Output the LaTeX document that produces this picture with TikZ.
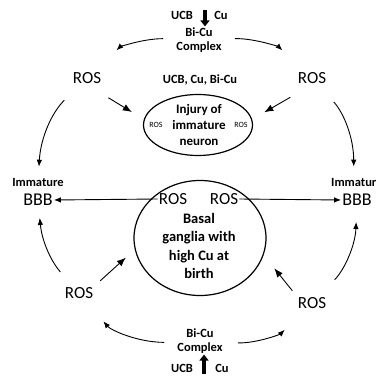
\documentclass[tikz,border=0pt]{standalone}
\usepackage{fontspec}
\setmainfont{Carlito}
\usetikzlibrary{arrows.meta,shapes.geometric}

\begin{document}
\begin{tikzpicture}[x=1pt, y=1pt,
    lbl/.style={font=\fontsize{12.5}{14}\selectfont\bfseries, align=center, inner sep=1pt},
    ros/.style={font=\fontsize{17}{19}\selectfont, inner sep=1pt},
    tinyros/.style={font=\fontsize{8}{9}\selectfont, inner sep=1pt},
    bbb/.style={font=\fontsize{18}{20}\selectfont, inner sep=1pt},
    oval/.style={ellipse, draw, line width=1.2pt, inner sep=0pt},
    ringarrow/.style={-{Latex[length=7pt,width=5.5pt]}, line width=0.9pt},
    fatarrow/.style={-{Triangle[width=9pt,length=6pt]}, line width=3.5pt}]
    \useasboundingbox (0, 0) rectangle (377, 375);

    % complex at the top
    \node[lbl] (ucbT) at (182, 360) {UCB};
    \node[lbl] (cuT) at (221, 360) {Cu};
    \node[lbl] (cplxT) at (199, 335) {Bi-Cu\\Complex};
    \coordinate (srcT) at (205, 365);
    \draw[fatarrow] (srcT) -- (srcT |- cplxT.north);

    \node[ros] (rosTL) at (87, 297) {ROS};
    \node[ros] (rosTR) at (312, 297) {ROS};
    \node[lbl] (agents) at (200, 295) {UCB, Cu, Bi-Cu};

    % injured neuron
    \node[oval, minimum width=109pt, minimum height=61pt] (inj) at (198, 250) {};
    \node[lbl, font=\fontsize{13}{16}\selectfont\bfseries] (injtxt) at (199, 250) {Injury of\\immature\\neuron};
    \node[tinyros] (rosIL) at (156, 250) {ROS};
    \node[tinyros] (rosIR) at (241, 250) {ROS};

    % barriers
    \node[lbl] (immL) at (38, 193) {Immature};
    \node[bbb] (bbbL) at (38, 175) {BBB};
    \node[lbl, anchor=west] (immR) at (330, 193) {Immatur};
    \node[bbb] (bbbR) at (357, 175) {BBB};

    % basal ganglia
    \node[oval, minimum width=132pt, minimum height=115pt] (circ) at (200, 137) {};
    \node[lbl, font=\fontsize{14.5}{18.5}\selectfont\bfseries] (basal) at (199, 129) {Basal\\ganglia with\\high Cu at\\birth};
    \node[ros] (rosCL) at (173, 176) {ROS};
    \node[ros] (rosCR) at (224, 176) {ROS};

    \node[ros] (rosBL) at (79, 82) {ROS};
    \node[ros] (rosBR) at (312, 72) {ROS};

    % complex at the bottom
    \node[lbl] (cplxB) at (200, 34) {Bi-Cu\\Complex};
    \node[lbl] (ucbB) at (182, 7) {UCB};
    \node[lbl] (cuB) at (222, 7) {Cu};
    \coordinate (srcB) at (204, 1);
    \draw[fatarrow] (srcB) -- (srcB |- cplxB.south);

    % outer ring
    \draw[ringarrow, shorten <=12pt, shorten >=30pt] (cplxT) to[bend right=22] (rosTL);
    \draw[ringarrow, shorten <=12pt, shorten >=30pt] (cplxT) to[bend left=22] (rosTR);
    \draw[ringarrow, shorten <=22pt, shorten >=10pt] (rosTL) to[bend right=21] (immL);
    \draw[ringarrow, shorten <=23pt, shorten >=10pt] (rosTR) to[bend left=21] (immR);
    \draw[ringarrow, shorten <=19pt, shorten >=11pt] (rosBL) to[bend left=18] (bbbL);
    \draw[ringarrow, shorten <=23pt, shorten >=15pt] (rosBR) to[bend right=21] (bbbR);
    \draw[ringarrow, shorten <=12pt, shorten >=28pt] (cplxB) to[bend left=25] (rosBL);
    \draw[ringarrow, shorten <=14pt, shorten >=28pt] (cplxB) to[bend right=23] (rosBR);

    % inner arrows
    \draw[ringarrow, -{Latex[length=9pt,width=7pt]}, shorten <=25pt, shorten >=14pt] (rosTL.south) -- (inj.174);
    \draw[ringarrow, -{Latex[length=9pt,width=7pt]}, shorten <=25pt, shorten >=14pt] (rosTR.south) -- (inj.6);
    \draw[ringarrow, -{Latex[length=9pt,width=7pt]}, shorten <=8pt, shorten >=12pt] (rosBL.north east) -- (circ.190);
    \draw[ringarrow, -{Latex[length=9pt,width=7pt]}, shorten <=7pt, shorten >=17pt] (rosBR.north west) -- (circ.-15);
    \draw[ringarrow] (rosCL.west) -- (bbbL.east);
    \draw[ringarrow] (rosCR.east) -- (bbbR.west);
\end{tikzpicture}
\end{document}
